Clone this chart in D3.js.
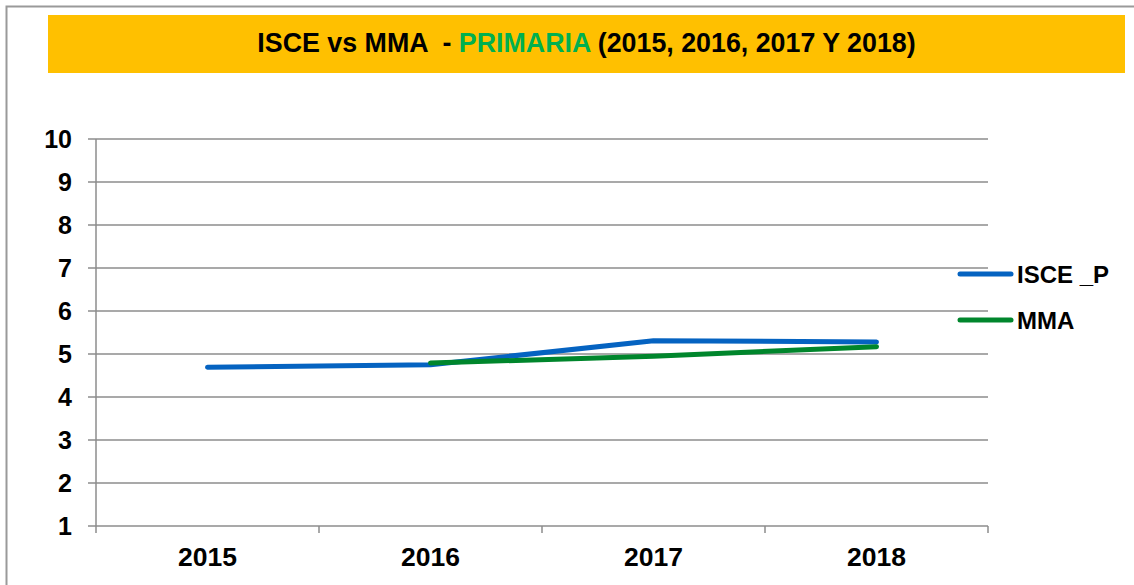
<!DOCTYPE html>
<html><head><meta charset="utf-8">
<script src="https://cdn.jsdelivr.net/npm/d3@7"></script>
<style>body{margin:0;background:#fff}svg{display:block}text{font-family:"Liberation Sans",Arial,sans-serif;font-weight:bold}</style>
</head><body>
<script>
const years = ["2015","2016","2017","2018"];
const isceValues = [4.69, 4.75, 5.31, 5.28];
const mmaValues = [null, 4.79, 4.95, 5.17];
const yTicks = [1,2,3,4,5,6,7,8,9,10];
const seriesNames = ["ISCE _P","MMA"];
const seriesColors = ["#0563C1","#00862C"];

const W=1134,H=585;
const svg=d3.select("body").append("svg").attr("width",W).attr("height",H);

// outer border
svg.append("path").attr("d","M6.5,"+H+" V6.5 H"+W).attr("fill","none").attr("stroke","#9a9a9a").attr("stroke-width",2);

// title box
svg.append("rect").attr("x",48).attr("y",15).attr("width",1077).attr("height",58).attr("fill","#FFC000");
const tt=svg.append("text").attr("x",586.5).attr("y",52).attr("text-anchor","middle").attr("font-size",26.8)
  .attr("xml:space","preserve").style("white-space","pre");
tt.append("tspan").attr("fill","#000").text("ISCE vs MMA  - ");
tt.append("tspan").attr("fill","#00B050").text("PRIMARIA");
tt.append("tspan").attr("fill","#000").text(" (2015, 2016, 2017 Y 2018)");

const x=d3.scaleBand().domain(years).range([96,988]);
const y=d3.scaleLinear().domain([1,10]).range([526,139]);
const grid="#8c8c8c";

// gridlines
svg.append("g").selectAll("line").data(yTicks).join("line")
  .attr("x1",88).attr("x2",988).attr("y1",d=>y(d)).attr("y2",d=>y(d))
  .attr("stroke",grid).attr("stroke-width",1.5);
// y axis line
svg.append("line").attr("x1",96).attr("x2",96).attr("y1",y(10)).attr("y2",y(1)).attr("stroke",grid).attr("stroke-width",1.5);
// x tick marks
const bounds=years.map(d=>x(d)).concat([x(years[3])+x.bandwidth()]);
svg.append("g").selectAll("line").data(bounds).join("line")
  .attr("x1",d=>d).attr("x2",d=>d).attr("y1",y(1)).attr("y2",y(1)+7)
  .attr("stroke",grid).attr("stroke-width",1.5);

// y labels
svg.append("g").selectAll("text").data(yTicks).join("text")
  .attr("x",72).attr("y",d=>y(d)+8.5)
  .attr("text-anchor","end").attr("font-size",25).text(d=>d);
// x labels
svg.append("g").selectAll("text").data(years).join("text")
  .attr("x",d=>x(d)+x.bandwidth()/2).attr("y",566)
  .attr("text-anchor","middle").attr("font-size",26.5).text(d=>d);

// lines
const line=d3.line().defined(d=>d.v!=null).x(d=>x(d.k)+x.bandwidth()/2).y(d=>y(d.v));
[isceValues,mmaValues].forEach((vals,i)=>{
  svg.append("path").datum(years.map((k,j)=>({k,v:vals[j]})))
    .attr("d",line).attr("fill","none").attr("stroke",seriesColors[i])
    .attr("stroke-width",5).attr("stroke-linecap","round").attr("stroke-linejoin","round");
});

// legend
const lg=svg.append("g").selectAll("g").data(seriesNames).join("g")
  .attr("transform",(d,i)=>"translate(0,"+(274+i*46)+")");
lg.append("line").attr("x1",960).attr("x2",1011).attr("y1",0).attr("y2",0)
  .attr("stroke",(d,i)=>seriesColors[i]).attr("stroke-width",5).attr("stroke-linecap","round");
lg.append("text").attr("x",1017).attr("y",9).attr("font-size",24).text(d=>d);
</script>
</body></html>
